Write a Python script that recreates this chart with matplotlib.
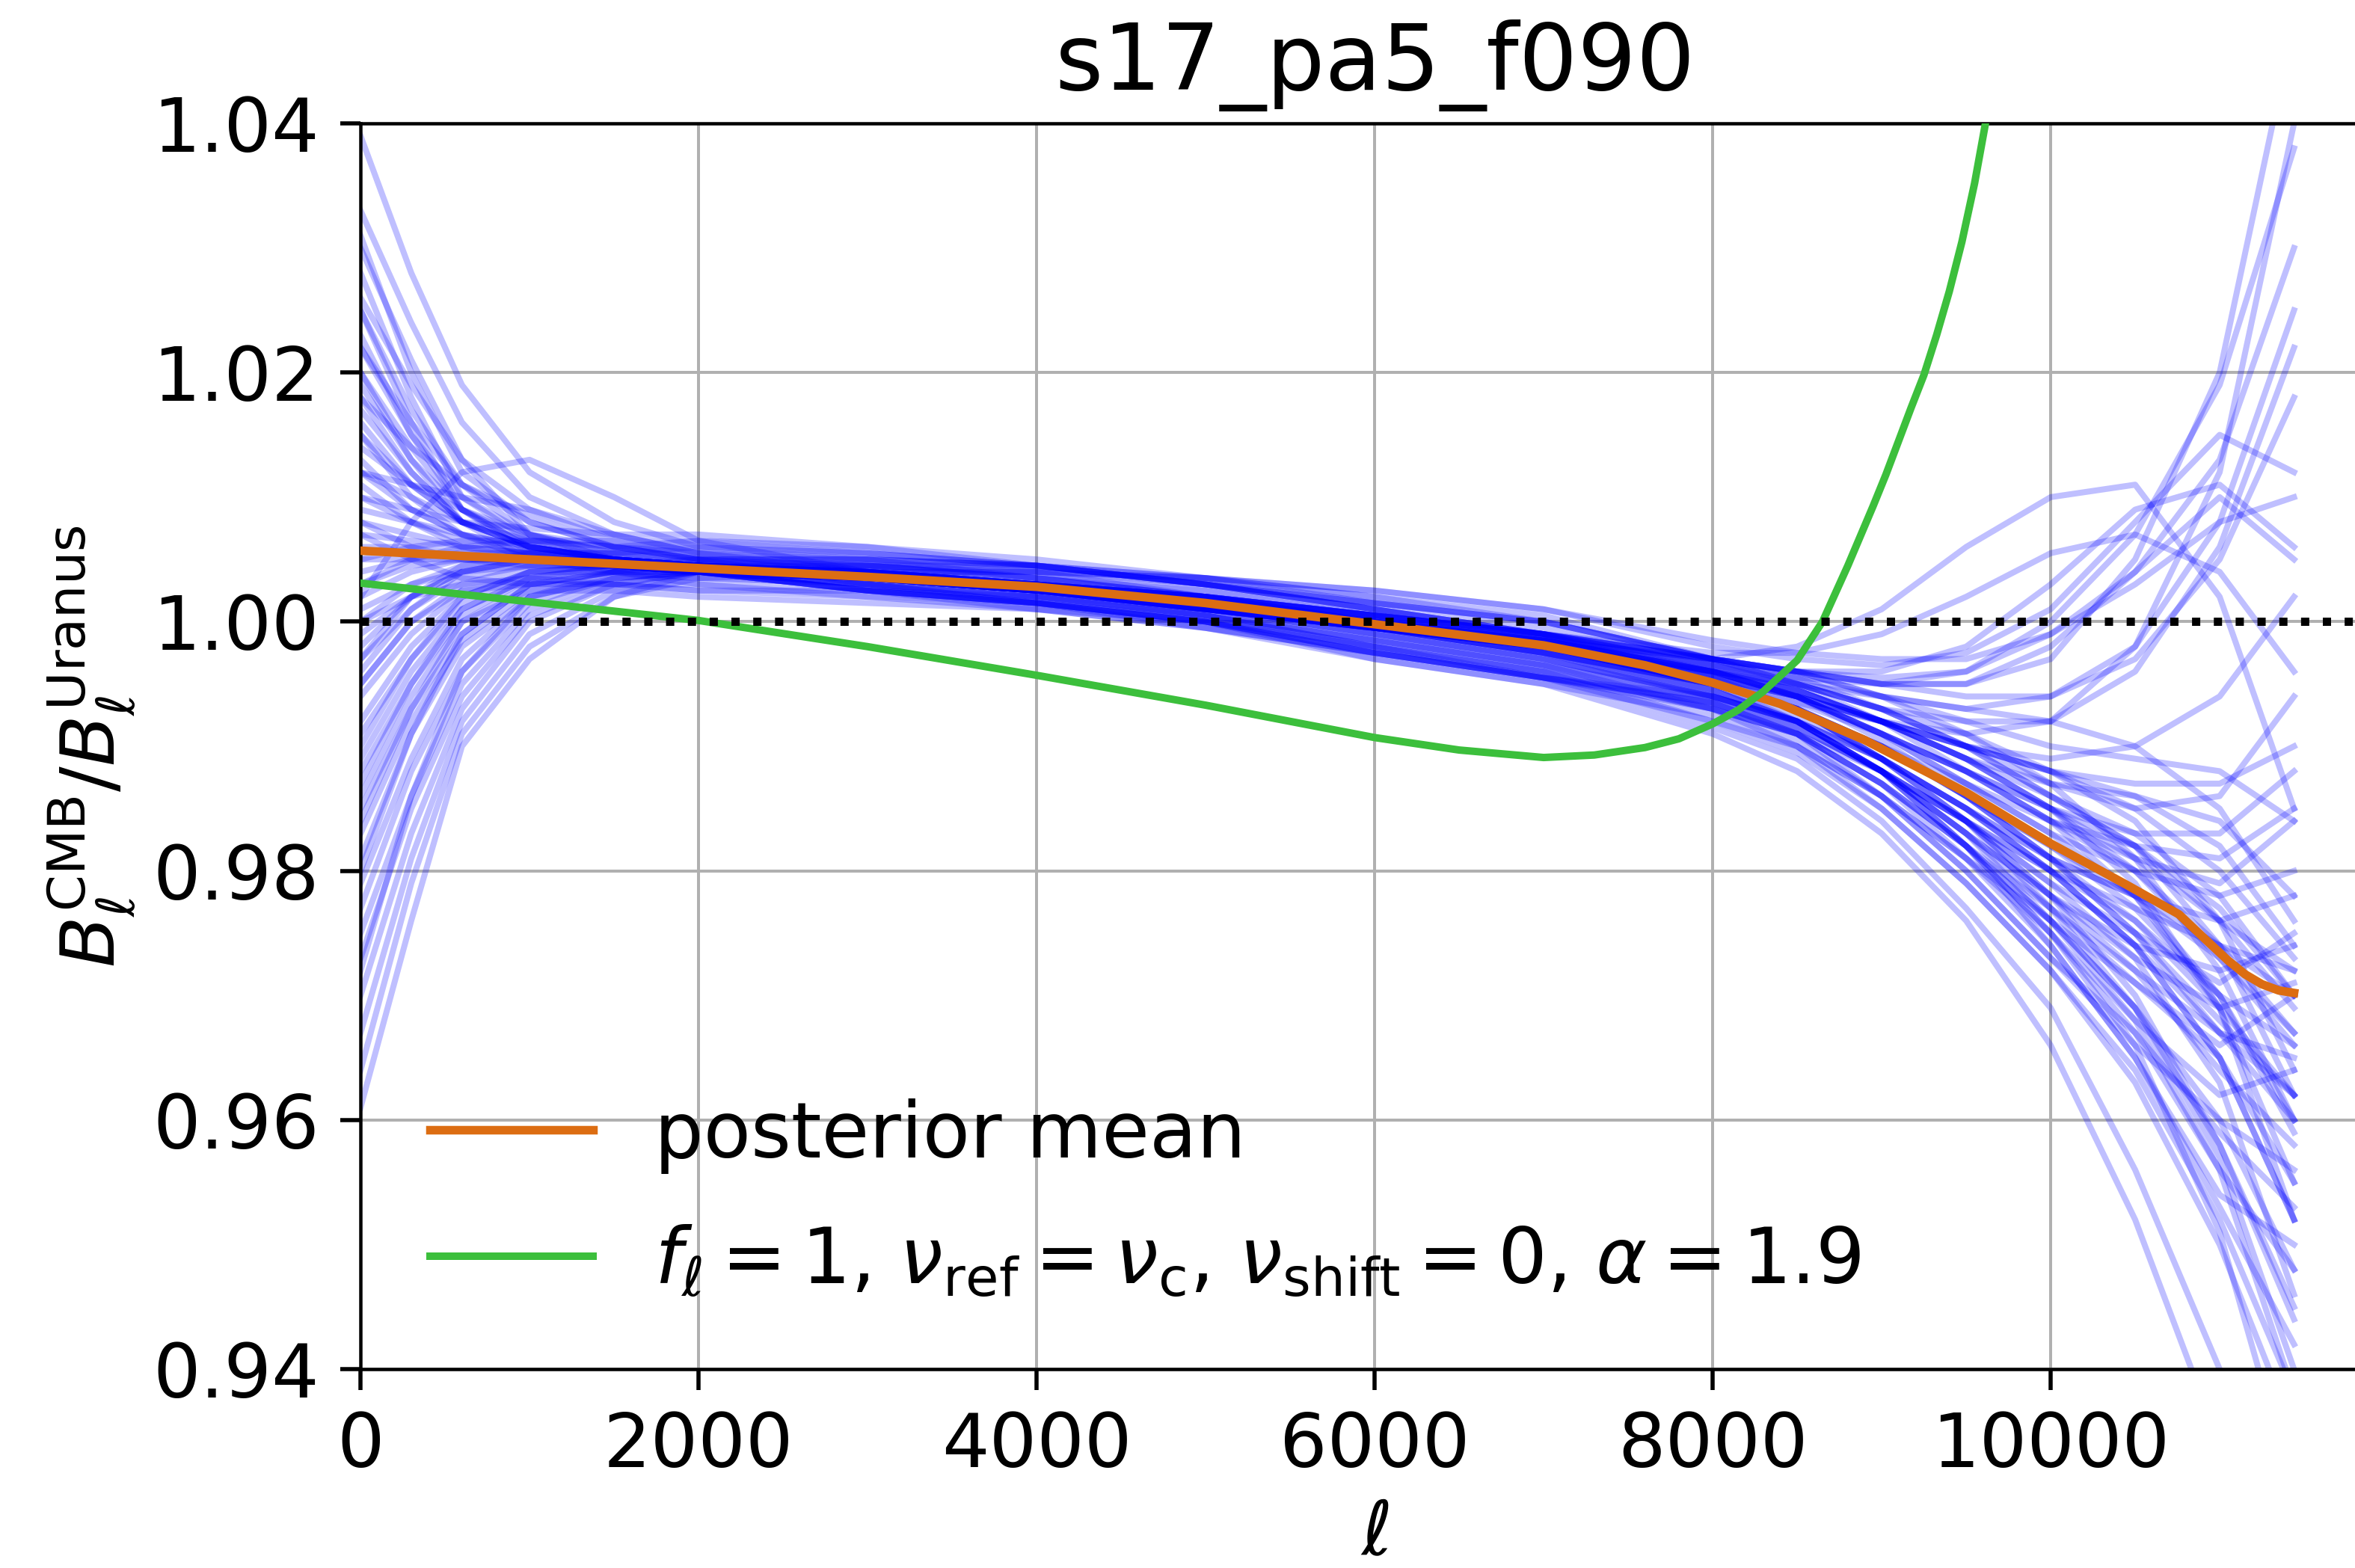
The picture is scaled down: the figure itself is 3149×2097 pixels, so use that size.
import numpy as np
import matplotlib
matplotlib.use("Agg")
import matplotlib.pyplot as plt

ELL_KNOTS = [0, 300, 600, 1000, 1500, 2000, 3000, 4000, 5000, 6000, 7000,
             8000, 8500, 9000, 9500, 10000, 10500, 11000, 11440]

# posterior samples of B_l^CMB / B_l^Uranus, as (ratio - 1) in units of 1e-3
SAMPLES_HIGH = [
    [39, 28, 19, 12, 8, 6, 5, 4.5, 3.5, 2, 0.5, -3, -5, -7, -10, -14, -18, -24, -28],
    [33, 24, 16, 10, 7, 5.5, 4, 3, 1.5, -0.5, -2.5, -5, -7, -10, -14, -19, -25, -33, -40],
    [31, 20, 12, 8, 6, 5, 3, 2, 0.5, -2, -4, -6.5, -9, -13, -18, -24, -31, -42, -55],
    [30, 21, 13, 7, 5, 4.5, 4, 3, 2, 0, -1.5, -4, -5, -6, -7, -6, -2, 8, 25],
    [28, 18, 10, 6.5, 5, 4.5, 3.5, 2.5, 1, -0.5, -2, -4.5, -6, -9, -13, -17, -20, -22, -20],
    [26, 19, 13, 9, 6.5, 5, 4.5, 4.5, 3.5, 2.5, 1, -1.5, -2.5, -3, -3, -1, 3, 8, 10],
    [25, 16, 9, 5.5, 4.5, 4, 3, 2, 0.5, -1.5, -3.5, -7, -10, -15, -21, -28, -36, -48, -62],
    [23, 15, 9, 6, 5, 4.5, 3.5, 2.5, 1, -0.5, -2, -5, -7, -11, -16, -22, -28, -36, -42],
    [22, 16, 11, 8, 6, 5, 5, 4.5, 3, 1.5, 0, -3, -5, -8, -11, -14, -17, -22, -30],
    [20, 13, 8, 6, 5, 4.5, 3.5, 2.5, 1.5, 0, -1.5, -3, -4, -4, -2, 3, 9, 11, 6],
    [19, 13, 9, 6.5, 5, 4, 3.5, 2.5, 1, -0.5, -2.5, -6, -8, -12, -16, -21, -25, -29, -25],
    [18, 14, 11, 8.5, 6, 5, 4, 2.5, 1, -1, -3, -6, -8, -12, -18, -26, -35, -47, -58],
    [16, 11, 8, 6, 5, 4.5, 4, 3, 2, 0.5, -1, -3.5, -5, -7, -9, -12, -16, -24, -36],
    [15, 10, 7, 5, 4.5, 4, 2.5, 1.5, 0, -2, -4, -8, -10, -14, -19, -25, -34, -49, -70],
    [14, 11, 9, 7, 5.5, 4.5, 3.5, 3, 2, 0.5, -1, -3, -4, -5, -6, -6, -3, 5, 18],
    [13, 9, 7, 5.5, 5, 4.5, 3.5, 2.5, 1, -0.5, -2.5, -5.5, -8, -11, -15, -19, -22, -26, -28],
    [12, 11, 10, 9, 7, 5.5, 4.5, 3.5, 2, 0, -1.5, -3, -2, 1, 6, 10, 11, 2, -15],
    [18, 12, 8, 6, 5, 4.5, 3.5, 2.5, 1.5, 0, -1.5, -3.5, -4.5, -5, -5, -3, 5, 20, 48],
]
SAMPLES_MID = [
    [12, 10, 8, 6, 5, 4, 2.5, 1.5, -0.5, -2.5, -4.5, -7, -9, -14, -20, -27, -34, -40, -44],
    [11, 8, 6.5, 5.5, 4.5, 4, 3.5, 2.5, 1.5, 0, -1.5, -4, -6, -8, -10, -11, -10, -6, 2],
    [10, 8, 6, 5, 4.5, 4, 3.5, 3, 2, 0.5, -1, -3, -4, -6, -9, -13, -19, -28, -40],
    [9, 8, 7, 6, 5, 4.5, 4, 4, 3, 1, -1, -5, -8, -12, -18, -25, -33, -44, -52],
    [8, 6, 5, 5, 4.5, 4.5, 4, 3, 2, 0, -1.5, -4.5, -6, -8, -11, -15, -19, -21, -16],
    [7, 6.5, 6, 5.5, 5, 4.5, 3.5, 2.5, 1, -0.5, -2, -5, -7, -11, -15, -20, -26, -33, -38],
    [6, 6, 5.5, 5, 4.5, 4, 3.5, 2.5, 1.5, -0.5, -2, -4, -5, -7, -8, -8, -4, 6, 22],
    [5, 5, 5, 4.5, 4.5, 4, 2.5, 1.5, 0, -2.5, -4.5, -6, -8, -11, -16, -22, -30, -42, -56],
    [4, 5, 5.5, 5.5, 5, 4.5, 3.5, 3, 2, 0.5, -1, -3, -4, -6, -7, -8, -10, -15, -24],
    [3, 4.5, 5, 5, 4.5, 4, 3.5, 2.5, 1, -1, -3, -6, -8, -12, -18, -25, -32, -38, -36],
    [2, 4, 5, 5, 4.5, 4, 2.5, 1.5, 0, -3, -5, -7.5, -10, -14, -19, -24, -29, -35, -48],
    [2, 8, 12, 13, 10, 6.5, 4, 3, 1.5, 0, -1.5, -4, -6, -8, -11, -15, -20, -27, -34],
    [1, 3, 4.5, 5, 5, 4.5, 4.5, 4, 3, 1.5, 0, -3, -4, -5, -4, 0, 7, 19, 38],
    [0, 3, 4, 4.5, 4.5, 4, 3.5, 2.5, 1.5, 0, -2, -5, -7, -10, -14, -18, -23, -30, -34],
    [-1, 2, 4, 5, 5, 4.5, 3.5, 3, 1.5, -0.5, -2, -4.5, -6, -9, -12, -15, -17, -17, -12],
    [-2, 2, 4, 5, 5, 4.5, 4, 3, 2, 0.5, -1, -2.5, -2.5, -1, 2, 5.5, 7, 4, -4],
    [-3, 1, 3.5, 4.5, 4.5, 4, 3.5, 2.5, 1, -0.5, -2.5, -5.5, -8, -12, -17, -23, -29, -34, -30],
    [-4, 1, 4, 5, 5, 4.5, 3.5, 2.5, 1, -0.5, -2.5, -5, -6.5, -8, -9, -8, -2, 12, 40],
    [-5, 0, 3, 4.5, 5, 4.5, 4, 3, 1.5, -0.5, -2, -4.5, -6, -9, -12, -16, -22, -31, -45],
]
SAMPLES_LOW = [
    [-6, -1, 2.5, 4, 4.5, 4, 3, 1.5, 0, -2.5, -4.5, -8.5, -11, -16, -23, -31, -44, -60, -78],
    [-8, -2, 2, 4, 4.5, 4.5, 4.5, 4, 3.5, 2.5, 1, -2, -3, -3.5, -2.5, 1, 8, 15, 12],
    [-10, -3, 1.5, 4, 4.5, 4, 3.5, 2.5, 1, -0.5, -2, -5, -7, -10, -14, -19, -25, -32, -38],
    [-12, -5, 1, 3.5, 4.5, 4.5, 4, 3, 1.5, 0, -2, -5, -7, -10, -13, -16, -18, -19, -15],
    [-13, -5, 0.5, 3.5, 4, 4, 3, 2, 0.5, -2, -4.5, -6.5, -9, -13, -19, -26, -35, -46, -50],
    [-15, -7, -1, 3, 4, 4, 2.5, 1, -0.5, -3, -5, -9, -12, -17, -24, -34, -48, -66, -85],
    [-17, -8, -1.5, 2.5, 4, 4.5, 4, 3, 1.5, 0, -1.5, -4, -5.5, -8, -11, -13, -14, -16, -22],
    [-19, -9, -2, 2, 3.5, 4, 3.5, 2.5, 1.5, -0.5, -2, -5, -7, -10, -14, -18, -22, -27, -33],
    [-21, -11, -3, 2, 4, 4.5, 4, 3, 2, 0.5, -1, -3, -4, -4.5, -4, -1, 4, 10, 5],
    [-23, -12, -4, 1.5, 3.5, 4, 3, 1.5, 0, -2.5, -4.5, -7, -9.5, -14, -20, -27, -33, -41, -47],
    [-25, -14, -5, 1, 3.5, 4, 3.5, 2.5, 1, -0.5, -2, -5, -7, -11, -16, -23, -31, -43, -60],
    [-27, -15, -6, 0.5, 3, 4, 3.5, 2.5, 1.5, 0, -1.5, -4, -6, -8, -10, -12, -15, -20, -27],
    [-30, -17, -7, 0, 3, 4, 4, 3, 1.5, -0.5, -2.5, -5.5, -8, -12, -17, -22, -27, -31, -29],
    [-33, -19, -8, -1, 2.5, 4, 2.5, 1.5, 0, -2.5, -4.5, -6.5, -8.5, -12, -17, -24, -32, -44, -62],
    [-36, -21, -9, -2, 2, 3.5, 4, 4, 3.5, 2, 0, -3, -4, -5, -5, -2, 4, 13, 30],
    [-39, -24, -10, -3, 2, 4, 3.5, 3, 2, 0.5, -1, -3.5, -5, -7, -10, -13, -15, -14, -6],
]
SAMPLES_CORE = [
    [15, 11, 8, 6.5, 6, 6.5, 6, 5, 3.5, 1.5, -0.5, -3.5, -5.5, -8, -12, -16, -20, -26, -33],
    [-9, -3, 2, 4, 4, 3, 2, 1, -0.5, -2.5, -4.5, -8, -10.5, -15, -21, -28, -37, -50, -65],
    [10, 9, 8, 7.5, 7, 7, 6, 4.5, 3, 1, -1, -4, -6, -9, -13, -17, -22, -30, -41],
    [-14, -6, 0, 2.5, 2.5, 2, 1.5, 1, 0, -2, -4, -7, -9, -13, -18, -23, -28, -33, -35],
    [20, 14, 9, 6, 5, 5, 4.5, 3.5, 2, 0.5, -1.5, -4.5, -6, -9, -12, -16, -19, -24, -31],
    [-20, -9, -1, 3, 4, 4.5, 4.5, 3.5, 2.5, 0.5, -1.5, -4, -6, -9.5, -14, -19, -24, -31, -38],
    [5, 6, 6.5, 6.5, 6, 5.5, 5, 4, 2, 0, -2, -5.5, -7.5, -11, -15, -20, -26, -35, -45],
    [0, 2, 3, 3.5, 3, 2.5, 2, 1.5, 0.5, -1.5, -3.5, -6, -8, -11, -15, -19, -22, -24, -22],
    [25, 17, 11, 7, 5.5, 5.5, 5, 3.5, 2.5, 0.5, -1.5, -4, -5.5, -8, -10, -12, -14, -18, -26],
    [-28, -14, -4, 2, 3.5, 3.5, 3, 2, 0.5, -1.5, -3.5, -6.5, -9, -13, -18, -24, -31, -40, -52],
    [8, 7, 6, 5.5, 5.5, 6, 5.5, 4.5, 3, 1.5, 0, -3, -4.5, -7, -10, -14, -18, -26, -38],
    [-5, 0, 2.5, 3, 3, 2.5, 2.5, 2, 1, -1, -3, -6, -8, -12, -17, -22, -26, -28, -26],
    [12, 9, 7, 6, 5.5, 5, 4, 3, 1.5, -0.5, -2.5, -5, -6.5, -9, -12, -15, -18, -23, -30],
    [-16, -7, 0, 3, 4, 4, 3.5, 2.5, 1, -1, -3, -6, -8.5, -12, -16, -20, -23, -26, -30],
    [3, 5, 6, 6.5, 6.5, 6.5, 5.5, 4.5, 3, 1, -1, -4, -5.5, -8, -11, -15, -21, -31, -48],
    [17, 12, 8, 5, 4, 3.5, 3, 2, 0.5, -1.5, -3.5, -6.5, -8.5, -12, -16, -21, -27, -37, -54],
    [-3, 2, 4.5, 5.5, 5.5, 5, 4.5, 3.5, 2, 0, -2, -4, -5.5, -8, -10, -12, -13, -13, -10],
    [7, 5, 3.5, 3, 3, 3, 2.5, 1.5, 0, -2, -4, -7, -9, -12, -16, -20, -24, -30, -40],
    [-11, -4, 1, 3.5, 4.5, 5, 5, 4.5, 3, 1, -1, -3.5, -4.5, -6, -8, -10, -11, -12, -16],
    [22, 15, 10, 7, 6, 6, 5.5, 4.5, 3, 1, -1, -4.5, -7, -11, -15, -20, -26, -35, -48],
]

# posterior mean
MEAN_ELL = [0, 1000, 2000, 3000, 4000, 5000, 6000, 7000, 7600, 8000, 8400,
            8900, 9500, 10000, 10460, 10760, 10900, 11050, 11150, 11250, 11350,
            11440]
MEAN = [1.0057, 1.0050, 1.0043, 1.0036, 1.0028, 1.0015, 0.9998, 0.9981, 0.9965,
        0.9951, 0.9934, 0.9905, 0.9863, 0.9822, 0.9788, 0.9765, 0.9747, 0.9728,
        0.9717, 0.9709, 0.9704, 0.9702]

# fixed model: f_l = 1, nu_ref = nu_c, nu_shift = 0, alpha = 1.9
MODEL_ELL = [0, 1000, 2000, 3000, 4000, 5000, 6000, 6500, 7000, 7300, 7600,
             7800, 8000, 8150, 8300, 8500, 8650, 8800, 8950, 9025, 9100, 9175,
             9250, 9325, 9400, 9475, 9550, 9625, 9700]
MODEL = [1.0031, 1.0016, 1.0001, 0.9980, 0.9957, 0.9933, 0.9907, 0.9897, 0.9891,
         0.9893, 0.9899, 0.9906, 0.9918, 0.9929, 0.9944, 0.9969, 1.0000, 1.0045,
         1.0093, 1.0118, 1.0145, 1.0172, 1.0198, 1.0230, 1.0265, 1.0305, 1.0352,
         1.0408, 1.0465]

TITLE = "s17_pa5_f090"
MEAN_LABEL = "posterior mean"
MODEL_LABEL = (r"$f_\ell=1$, $\nu_{\rm ref}=\nu_{\rm c}$, "
               r"$\nu_{\rm shift}=0$, $\alpha=1.9$")

DPI = 360
fig = plt.figure(figsize=(3149 / DPI, 2097 / DPI), dpi=DPI)
# the axes run past the right edge of the canvas, as in the cropped original
ax = fig.add_axes([0.1531, 0.1268, 0.8612, 0.7945])

for group in (SAMPLES_HIGH, SAMPLES_MID, SAMPLES_LOW, SAMPLES_CORE):
    for row in group:
        ax.plot(ELL_KNOTS, 1 + np.asarray(row) / 1000.0, color="blue",
                alpha=0.25, lw=1.6, solid_joinstyle="round")

ax.plot(MEAN_ELL, MEAN, color="#dc6d12", lw=2.3, label=MEAN_LABEL, zorder=4)
ax.plot(MODEL_ELL, MODEL, color="#3cbf3c", lw=2.0, label=MODEL_LABEL, zorder=4)
ax.axhline(1.0, color="black", ls=":", lw=2.2, zorder=5)

ax.set_xlim(0, 12000)
ax.set_ylim(0.94, 1.04)
ax.set_xticks([0, 2000, 4000, 6000, 8000, 10000])
ax.set_yticks([0.94, 0.96, 0.98, 1.00, 1.02, 1.04])
ax.grid(True, color="#b0b0b0", lw=0.8)
ax.tick_params(labelsize=20, length=5.5, width=1.1, pad=5.5)
for sp in ax.spines.values():
    sp.set_linewidth(0.9)

ax.set_xlabel(r"$\ell$", fontsize=20)
ax.set_ylabel(r"$B_\ell^{\rm CMB}/B_\ell^{\rm Uranus}$", fontsize=20)
ax.set_title(TITLE, fontsize=24.7, pad=9)
ax.legend(loc="lower left", frameon=False, fontsize=20.7, handlelength=2.1,
          labelspacing=0.65)

fig.savefig("out.png", dpi=DPI)
